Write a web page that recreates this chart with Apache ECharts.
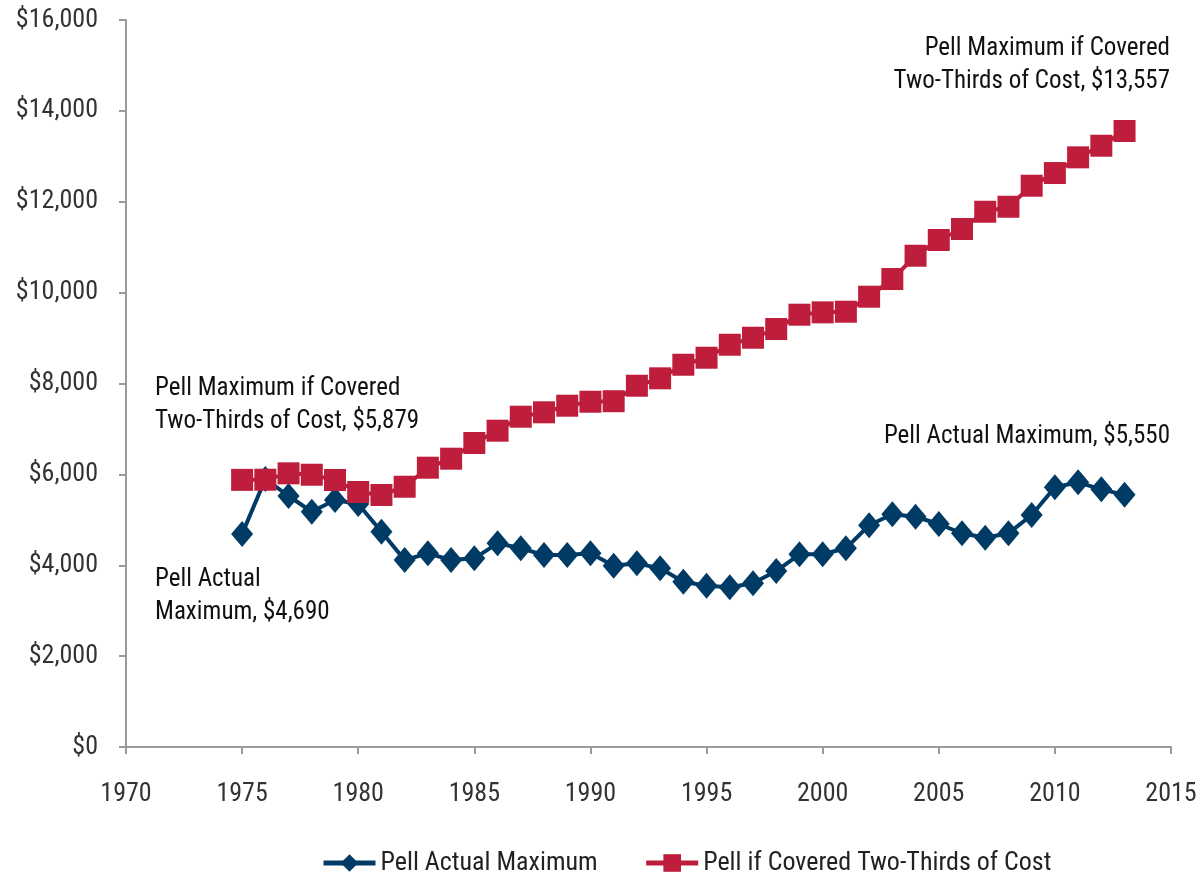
<!DOCTYPE html>
<html>
<head>
<meta charset="utf-8">
<script src="https://cdn.jsdelivr.net/npm/echarts@6/dist/echarts.min.js"></script>
<style>
  html, body { margin: 0; padding: 0; background: #fff; }
  #chart { width: 1204px; height: 876px; }
</style>
</head>
<body>
<div id="chart"></div>
<script>
const years = []
for (let y = 1975; y <= 2013; y++) years.push(y)

// 每年数值
const actualMax = [4690, 5900, 5524, 5178, 5436, 5350, 4738, 4115, 4262, 4115, 4152, 4483,
  4373, 4225, 4225, 4262, 3990, 4042, 3932, 3638, 3550, 3514, 3602, 3873, 4241, 4241, 4373,
  4880, 5121, 5068, 4908, 4703, 4606, 4703, 5106, 5715, 5825, 5671, 5550]
const twoThirdsMax = [5879, 5882, 6023, 5992, 5876, 5612, 5546, 5728, 6147, 6345, 6690, 6961,
  7269, 7366, 7511, 7599, 7610, 7951, 8114, 8413, 8567, 8853, 9007, 9199, 9514, 9566, 9580,
  9910, 10299, 10812, 11158, 11400, 11780, 11890, 12353, 12632, 12977, 13233, 13557]

const seriesNames = ['Pell Actual Maximum', 'Pell if Covered Two-Thirds of Cost']
const FONT = "'Liberation Sans Narrow', 'Roboto Condensed', 'DejaVu Sans Condensed', sans-serif"

const chart = echarts.init(document.getElementById('chart'))

const toPairs = arr => arr.map((v, i) => [years[i], v])

const option = {
  animation: false,
  textStyle: { fontFamily: FONT },
  grid: { left: 126, right: 33, top: 20, bottom: 129 },
  xAxis: {
    type: 'value',
    min: 1970,
    max: 2015,
    interval: 5,
    axisLine: { lineStyle: { color: '#9a9a9a', width: 2 } },
    axisTick: { show: true, length: 7, lineStyle: { color: '#9a9a9a', width: 2 } },
    axisLabel: { color: '#333', fontSize: 26, fontFamily: FONT, margin: 34, formatter: v => String(v) },
    splitLine: { show: false }
  },
  yAxis: {
    type: 'value',
    min: 0,
    max: 16000,
    interval: 2000,
    axisLine: { show: true, lineStyle: { color: '#9a9a9a', width: 2 } },
    axisTick: { show: true, length: 7, lineStyle: { color: '#9a9a9a', width: 2 } },
    axisLabel: {
      color: '#333', fontSize: 26, fontFamily: FONT, margin: 28,
      formatter: v => '$' + v.toLocaleString('en-US')
    },
    splitLine: { show: false }
  },
  legend: {
    top: 845,
    left: 316,
    itemWidth: 52,
    itemHeight: 22,
    itemGap: 46,
    lineStyle: { width: 5 },
    textStyle: { color: '#222', fontSize: 26, fontFamily: FONT },
    data: seriesNames
  },
  series: [
    {
      name: seriesNames[0],
      type: 'line',
      data: toPairs(actualMax),
      symbol: 'diamond',
      symbolSize: [22, 26],
      lineStyle: { color: '#003B66', width: 4 },
      itemStyle: { color: '#003B66' }
    },
    {
      name: seriesNames[1],
      type: 'line',
      data: toPairs(twoThirdsMax),
      symbol: 'rect',
      symbolSize: 22,
      lineStyle: { color: '#BE1E3C', width: 4 },
      itemStyle: { color: '#BE1E3C' }
    }
  ],
  graphic: [
    {
      type: 'text', x: 155, y: 372,
      style: { text: 'Pell Maximum if Covered\nTwo-Thirds of Cost, $5,879', fill: '#111', font: '25px ' + FONT, lineHeight: 33 }
    },
    {
      type: 'text', x: 155, y: 563,
      style: { text: 'Pell Actual\nMaximum, $4,690', fill: '#111', font: '25px ' + FONT, lineHeight: 33 }
    },
    {
      type: 'text', x: 1170, y: 32,
      style: { text: 'Pell Maximum if Covered\nTwo-Thirds of Cost, $13,557', fill: '#111', font: '25px ' + FONT, lineHeight: 33, align: 'right' }
    },
    {
      type: 'text', x: 1170, y: 424,
      style: { text: 'Pell Actual Maximum, $5,550', fill: '#111', font: '25px ' + FONT, align: 'right' }
    }
  ]
}

chart.setOption(option)
window.addEventListener('resize', () => chart.resize())
</script>
</body>
</html>
